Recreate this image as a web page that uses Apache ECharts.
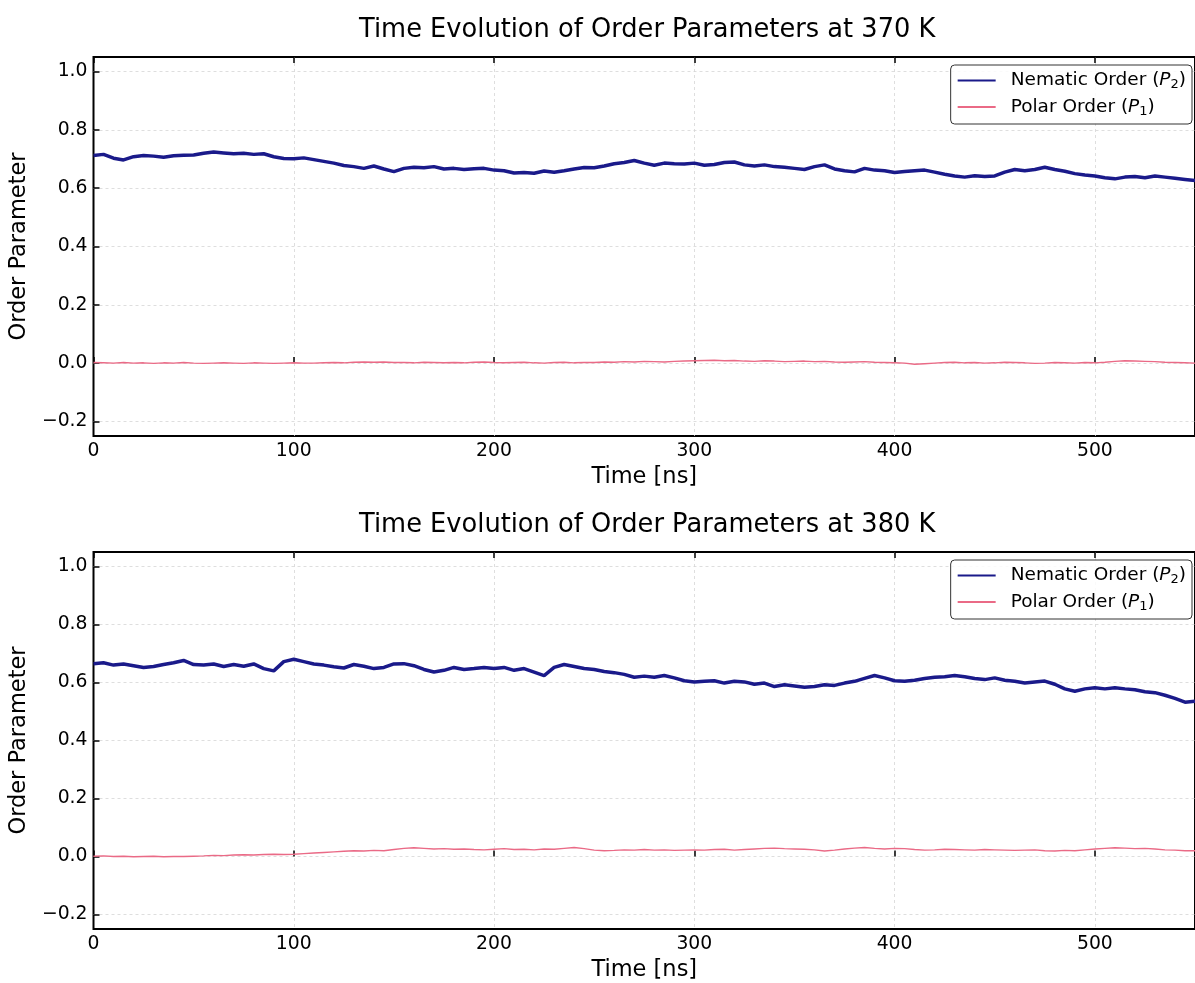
<!DOCTYPE html>
<html>
<head>
<meta charset="utf-8">
<script src="https://cdn.jsdelivr.net/npm/echarts@6/dist/echarts.min.js"></script>
<style>
html,body{margin:0;padding:0;background:#fff;}
#chart{width:1195px;height:983px;}
</style>
</head>
<body>
<div id="chart"></div>
<script>
// ---- data ----
const titles = ['Time Evolution of Order Parameters at 370 K', 'Time Evolution of Order Parameters at 380 K'];
const seriesNames = ['Nematic Order (P2)', 'Polar Order (P1)'];
const xTicks = [0, 100, 200, 300, 400, 500];
const yTicks = [-0.2, 0.0, 0.2, 0.4, 0.6, 0.8, 1.0];

const time = [0,5,10,15,20,25,30,35,40,45,50,55,60,65,70,75,80,85,90,95,
100,105,110,115,120,125,130,135,140,145,150,155,160,165,170,175,180,185,190,195,
200,205,210,215,220,225,230,235,240,245,250,255,260,265,270,275,280,285,290,295,
300,305,310,315,320,325,330,335,340,345,350,355,360,365,370,375,380,385,390,395,
400,405,410,415,420,425,430,435,440,445,450,455,460,465,470,475,480,485,490,495,
500,505,510,515,520,525,530,535,540,545,550];

const nematic370 = [0.712,0.716,0.703,0.697,0.708,0.712,0.710,0.706,0.711,0.713,
0.714,0.720,0.724,0.721,0.718,0.720,0.716,0.718,0.708,0.702,
0.701,0.704,0.698,0.692,0.686,0.678,0.674,0.668,0.676,0.666,
0.657,0.668,0.672,0.670,0.674,0.666,0.668,0.664,0.667,0.668,
0.662,0.660,0.652,0.654,0.651,0.659,0.655,0.660,0.666,0.671,
0.670,0.676,0.684,0.688,0.695,0.686,0.679,0.686,0.684,0.683,
0.686,0.679,0.681,0.688,0.690,0.680,0.676,0.680,0.674,0.672,
0.668,0.664,0.674,0.680,0.666,0.660,0.656,0.668,0.662,0.660,
0.654,0.657,0.660,0.662,0.655,0.648,0.642,0.638,0.643,0.640,
0.642,0.655,0.664,0.660,0.664,0.672,0.664,0.658,0.650,0.645,
0.642,0.636,0.632,0.638,0.640,0.636,0.642,0.638,0.634,0.630,0.626];

const polar370 = [0.002,0.001,0.000,0.002,0.000,0.001,-0.001,0.001,0.000,0.002,
0.000,-0.001,0.000,0.001,0.000,-0.001,0.001,0.000,-0.001,0.000,
0.001,0.000,0.000,0.001,0.002,0.001,0.003,0.004,0.003,0.004,
0.002,0.002,0.001,0.003,0.002,0.001,0.002,0.001,0.003,0.004,
0.002,0.001,0.002,0.003,0.001,0.000,0.002,0.003,0.001,0.002,
0.002,0.004,0.003,0.005,0.004,0.006,0.005,0.004,0.006,0.007,
0.008,0.009,0.010,0.008,0.009,0.007,0.006,0.008,0.007,0.005,
0.006,0.007,0.005,0.006,0.004,0.003,0.004,0.005,0.003,0.002,
0.001,0.000,-0.004,-0.002,0.000,0.002,0.003,0.001,0.002,0.000,
0.001,0.003,0.002,0.001,-0.001,0.000,0.002,0.001,0.000,0.002,
0.001,0.003,0.006,0.008,0.007,0.006,0.005,0.003,0.002,0.001,0.000];

const nematic380 = [0.665,0.668,0.660,0.664,0.658,0.652,0.655,0.662,0.668,0.676,
0.662,0.660,0.664,0.655,0.662,0.656,0.664,0.648,0.640,0.672,
0.680,0.672,0.664,0.660,0.654,0.650,0.662,0.656,0.648,0.652,
0.664,0.665,0.658,0.645,0.636,0.642,0.652,0.645,0.648,0.652,
0.648,0.652,0.642,0.648,0.636,0.624,0.652,0.662,0.655,0.648,
0.645,0.638,0.634,0.628,0.618,0.622,0.618,0.624,0.616,0.606,
0.602,0.604,0.606,0.598,0.604,0.602,0.594,0.598,0.586,0.592,
0.588,0.584,0.586,0.592,0.590,0.598,0.604,0.614,0.624,0.616,
0.606,0.604,0.608,0.614,0.618,0.620,0.624,0.620,0.614,0.610,
0.616,0.608,0.604,0.598,0.602,0.605,0.594,0.578,0.570,0.578,
0.582,0.578,0.582,0.578,0.575,0.568,0.565,0.556,0.545,0.532,0.535];

const polar380 = [0.001,0.002,0.000,0.001,-0.001,0.000,0.001,-0.001,0.000,0.000,
0.001,0.002,0.004,0.003,0.005,0.006,0.005,0.007,0.008,0.007,
0.008,0.010,0.012,0.014,0.016,0.018,0.020,0.019,0.021,0.020,
0.024,0.028,0.030,0.028,0.026,0.027,0.025,0.026,0.024,0.023,
0.025,0.027,0.024,0.025,0.023,0.026,0.025,0.028,0.031,0.027,
0.022,0.020,0.021,0.023,0.022,0.024,0.022,0.023,0.021,0.022,
0.023,0.022,0.024,0.025,0.022,0.024,0.026,0.028,0.029,0.027,
0.026,0.025,0.023,0.019,0.022,0.026,0.029,0.031,0.028,0.026,
0.028,0.027,0.024,0.022,0.023,0.025,0.024,0.023,0.022,0.024,
0.023,0.022,0.021,0.022,0.023,0.020,0.019,0.021,0.020,0.023,
0.026,0.028,0.030,0.029,0.027,0.028,0.026,0.023,0.022,0.020,0.020];

// ---- chart ----
const FONT = 'DejaVu Sans';
const NAVY = '#1a1a8a';
const PINK = '#ea6a86';
const pairs = (xs, ys) => xs.map((x, i) => [x, ys[i]]);
const panels = [[nematic370, polar370], [nematic380, polar380]];
const gridTops = [57, 552];
const GRID_H = 379;
const GRID_LEFT = 93;
const GRID_W = 1108.4;

const fmtY = v => (v < 0 ? '\u2212' : '') + Math.abs(v).toFixed(1);
const legendFmt = name => {
  const m = name.match(/^(.*)\(P(.)\)$/);
  return '{n|' + m[1] + '(}{i|P}{s|' + m[2] + '}{n|)}';
};

const gridLine = { show: true, showMinLine: false, showMaxLine: false,
  lineStyle: { color: '#d6d6d6', width: 0.8, type: [3, 3] } };
const tickStyle = { show: true, inside: true, length: 6, lineStyle: { color: '#000', width: 1.5 } };

const option = {
  backgroundColor: '#fff',
  animation: false,
  textStyle: { fontFamily: FONT },
  title: titles.map((t, k) => ({
    text: t,
    left: GRID_LEFT + GRID_W / 2 - 5,
    textAlign: 'center',
    top: gridTops[k] - 45,
    textStyle: { fontFamily: FONT, fontSize: 25.7, fontWeight: 'normal', color: '#000' }
  })),
  legend: [0, 1].map(k => ({
    data: seriesNames,
    orient: 'vertical',
    right: 3,
    top: gridTops[k] + 8,
    itemWidth: 38,
    itemHeight: 2,
    itemGap: 6,
    icon: 'rect',
    padding: [6, 6, 6, 7],
    backgroundColor: 'rgba(255,255,255,0.85)',
    borderColor: '#333',
    borderWidth: 1,
    borderRadius: 4,
    formatter: legendFmt,
    textStyle: {
      fontFamily: FONT, color: '#000', padding: [0, 0, 0, 10],
      rich: {
        n: { fontFamily: FONT, fontSize: 18.5, color: '#000', lineHeight: 22 },
        i: { fontFamily: FONT, fontSize: 18.5, fontStyle: 'italic', color: '#000', lineHeight: 22 },
        s: { fontFamily: FONT, fontSize: 13, color: '#000', lineHeight: 12, verticalAlign: 'bottom' }
      }
    }
  })),
  grid: gridTops.map(t => ({
    left: GRID_LEFT, top: t, width: GRID_W, height: GRID_H,
    show: true, borderColor: '#000', borderWidth: 2, backgroundColor: 'transparent'
  })),
  xAxis: [0, 1].flatMap(k => ([
    {
      type: 'value', gridIndex: k, position: 'bottom', min: 0, max: 550, interval: 100,
      name: 'Time [ns]', nameLocation: 'middle', nameGap: 30,
      nameTextStyle: { fontFamily: FONT, fontSize: 22.5, color: '#000' },
      axisLine: { show: false },
      axisTick: tickStyle,
      axisLabel: { show: true, margin: 6, fontFamily: FONT, fontSize: 18.8, color: '#000', showMaxLabel: false },
      splitLine: gridLine
    },
    {
      type: 'value', gridIndex: k, position: 'top', min: 0, max: 550, interval: 100,
      axisLine: { show: false },
      axisTick: tickStyle,
      axisLabel: { show: false },
      splitLine: { show: false }
    }
  ])),
  yAxis: [0, 1].map(k => ({
    type: 'value', gridIndex: k, min: -0.25, max: 1.05, splitNumber: 6,
    name: 'Order Parameter', nameLocation: 'middle', nameGap: 56,
    nameTextStyle: { fontFamily: FONT, fontSize: 22.5, color: '#000' },
    axisLine: { show: false },
    axisTick: tickStyle,
    axisLabel: { show: true, margin: 6, fontFamily: FONT, fontSize: 18.8, color: '#000',
      showMinLabel: false, showMaxLabel: false, formatter: fmtY },
    splitLine: gridLine
  })),
  series: [0, 1].flatMap(k => ([
    {
      name: seriesNames[0], type: 'line', xAxisIndex: 2 * k, yAxisIndex: k,
      data: pairs(time, panels[k][0]), showSymbol: false, symbol: 'none', smooth: false,
      color: NAVY, lineStyle: { color: NAVY, width: 3.5 }, z: 3
    },
    {
      name: seriesNames[1], type: 'line', xAxisIndex: 2 * k, yAxisIndex: k,
      data: pairs(time, panels[k][1]), showSymbol: false, symbol: 'none', smooth: false,
      color: PINK, lineStyle: { color: PINK, width: 1.4 }, z: 2
    }
  ]))
};

const chart = echarts.init(document.getElementById('chart'), null, { renderer: 'canvas' });
chart.setOption(option);
</script>
</body>
</html>
